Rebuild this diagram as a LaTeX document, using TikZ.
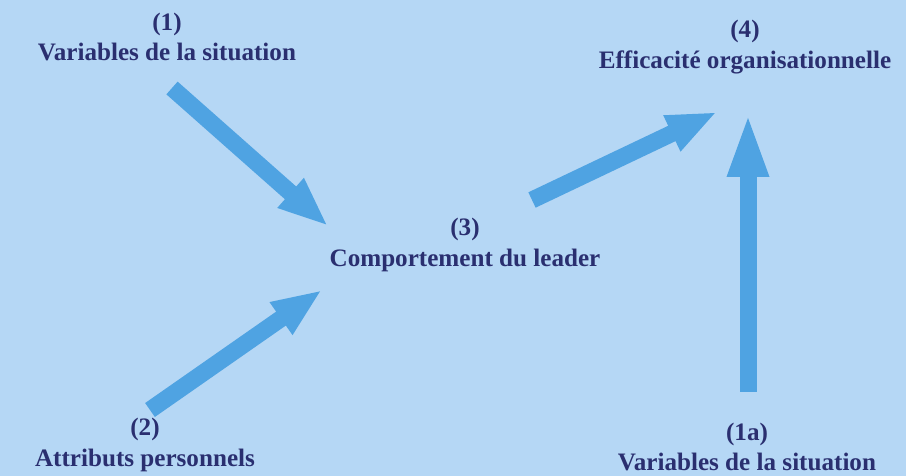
\documentclass[tikz,border=0pt]{standalone}
\usepackage{fontspec}
\setmainfont{Liberation Serif}
\usepackage{xcolor}
\usetikzlibrary{arrows.meta, positioning, calc}

\definecolor{bgblue}{RGB}{181,215,245}
\definecolor{arrblue}{RGB}{79,163,226}
\definecolor{txtnavy}{RGB}{42,47,112}

\begin{document}
\begin{tikzpicture}[
  x=0.02cm, y=0.02cm,
  label/.style={align=center, text=txtnavy, inner sep=2pt,
                font=\fontsize{14.3}{17.5}\selectfont\bfseries},
  bigarr/.style={-{Triangle[length=1cm, width=0.72cm]}, line width=0.34cm,
                 draw=arrblue},
  longarr/.style={bigarr, -{Triangle[length=1.3cm, width=0.74cm]}}
]
  % background
  \fill[bgblue] (0,0) rectangle (906,476);
  \useasboundingbox (0,0) rectangle (906,476);

  % Nodes
  \node[label] (sit1) at (167,439) {(1)\\Variables de la situation};
  \node[label] (lead) at (465,231) {(3)\\Comportement du leader};
  \node[label] (att)  at (145,31)  {(2)\\Attributs personnels};
  \node[label] (eff)  at (745,429) {(4)\\Efficacité organisationnelle};
  \node[label] (sit2) at (747,29)  {(1a)\\Variables de la situation};

  % arrows
  \draw[bigarr] ($(sit1)+(5,-51)$) -- ($(lead)+(-137,19)$);
  \draw[bigarr] ($(att)+(5,35)$) -- ($(lead)+(-143,-45)$);
  \draw[bigarr] ($(lead)+(67,45)$) -- ($(eff)+(-28,-65)$);
  \draw[longarr] ($(sit2)+(1,55)$) -- ($(eff)+(3,-65)$);
\end{tikzpicture}
\end{document}
